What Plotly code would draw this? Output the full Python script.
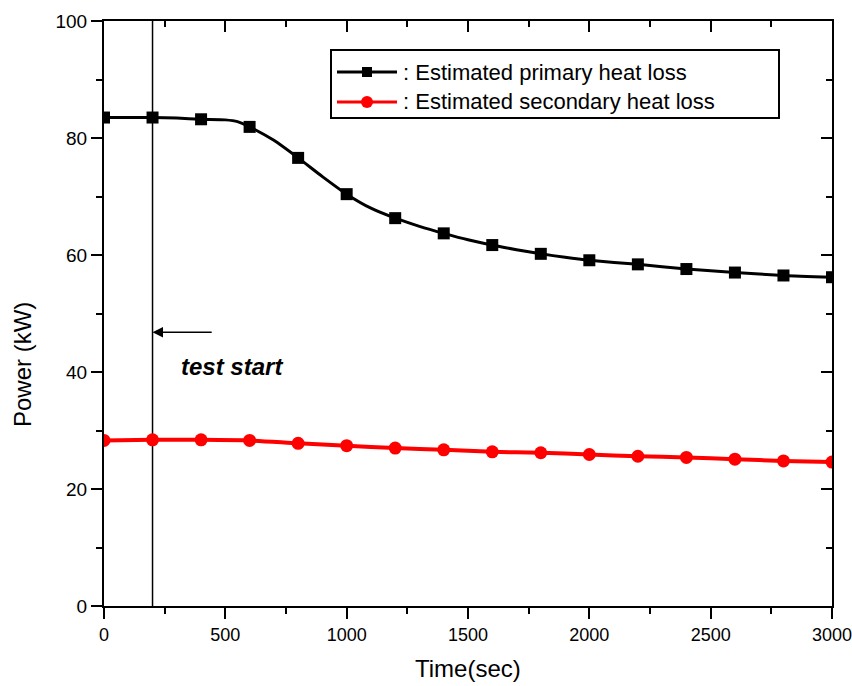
import plotly.graph_objects as go

# ---- data ----
# primary heat loss: continuous curve (read every 100 s) and markers every 200 s
prim_line_t = [0, 100, 200, 300, 400, 500, 550, 600, 700, 800, 900, 1000, 1100, 1200, 1300,
               1400, 1500, 1600, 1700, 1800, 1900, 2000, 2200, 2400, 2600, 2800, 3000]
prim_line_p = [83.5, 83.5, 83.5, 83.4, 83.2, 83.1, 82.8, 81.9, 79.6, 76.6, 73.4, 70.4, 68.0,
               66.3, 64.9, 63.7, 62.6, 61.7, 60.9, 60.2, 59.6, 59.1, 58.4, 57.6, 57.0, 56.5, 56.2]
prim_mark_t = [0, 200, 400, 600, 800, 1000, 1200, 1400, 1600, 1800, 2000, 2200, 2400, 2600, 2800, 3000]
prim_mark_p = [83.5, 83.5, 83.2, 81.9, 76.6, 70.4, 66.3, 63.7, 61.7, 60.2, 59.1, 58.4, 57.6, 57.0, 56.5, 56.2]

sec_t = [0, 200, 400, 600, 800, 1000, 1200, 1400, 1600, 1800, 2000, 2200, 2400, 2600, 2800, 3000]
sec_p = [28.3, 28.4, 28.4, 28.3, 27.8, 27.4, 27.0, 26.7, 26.35, 26.2, 25.9, 25.6, 25.4, 25.1, 24.8, 24.6]

x_ticks = [0, 500, 1000, 1500, 2000, 2500, 3000]
y_ticks = [0, 20, 40, 60, 80, 100]

test_start_t = 200
arrow_tail_t = 450
arrow_y = 46.8
label_t, label_y = 527, 40.9

names = [": Estimated primary heat loss", ": Estimated secondary heat loss"]
FONT = "Liberation Sans, Arial, sans-serif"

# plot-area geometry in pixels (for converting the hand-drawn legend)
L, R, T, B = 104, 832, 21, 606
def px(xp):
    return (xp - L) / (R - L)
def py(yp):
    return (B - yp) / (B - T)

fig = go.Figure()

# test start vertical line
fig.add_shape(type="line", x0=test_start_t, x1=test_start_t, y0=0, y1=100,
              xref="x", yref="y", line=dict(color="black", width=1.5), layer="below")

# primary
fig.add_trace(go.Scatter(x=prim_line_t, y=prim_line_p, mode="lines",
                         line=dict(color="black", width=3, shape="spline", smoothing=0.6),
                         showlegend=False, hoverinfo="skip"))
fig.add_trace(go.Scatter(x=prim_mark_t, y=prim_mark_p, mode="markers", name=names[0],
                         marker=dict(symbol="square", size=12, color="black"), showlegend=False))
# secondary
fig.add_trace(go.Scatter(x=sec_t, y=sec_p, mode="lines+markers", name=names[1],
                         line=dict(color="red", width=4, shape="spline", smoothing=0.6),
                         marker=dict(symbol="circle", size=13, color="red"), showlegend=False))

# mirror axes trace (invisible)
fig.add_trace(go.Scatter(x=[None], y=[None], xaxis="x2", yaxis="y2", showlegend=False, hoverinfo="skip"))

# arrow + label
fig.add_annotation(x=test_start_t, y=arrow_y, ax=arrow_tail_t, ay=arrow_y, axref="x", ayref="y",
                   xref="x", yref="y", text="", showarrow=True, arrowhead=2, arrowsize=1.4,
                   arrowwidth=1.5, arrowcolor="black")
fig.add_annotation(x=label_t, y=label_y, xref="x", yref="y", text="<b><i>test start</i></b>",
                   showarrow=False, font=dict(family=FONT, size=24, color="black"))

# hand-drawn legend (box, sample lines, markers, text)
fig.add_shape(type="rect", xref="paper", yref="paper", x0=px(331), x1=px(779), y0=py(118), y1=py(50),
              line=dict(color="black", width=2), fillcolor="white")
legend_rows = [(72, "black", "square", 3), (102, "red", "circle", 3)]
for (ry, col, sym, lw), name in zip(legend_rows, names):
    fig.add_shape(type="line", xref="paper", yref="paper", x0=px(337), x1=px(397), y0=py(ry), y1=py(ry),
                  line=dict(color=col, width=lw))
    if sym == "square":
        fig.add_shape(type="rect", xref="paper", yref="paper", x0=px(362), x1=px(372), y0=py(ry + 5), y1=py(ry - 5),
                      line=dict(color=col, width=0), fillcolor=col)
    else:
        fig.add_shape(type="circle", xref="paper", yref="paper", x0=px(361), x1=px(373), y0=py(ry + 6), y1=py(ry - 6),
                      line=dict(color=col, width=0), fillcolor=col)
    fig.add_annotation(x=px(401), y=py(ry), xref="paper", yref="paper", text=name, showarrow=False,
                       xanchor="left", yanchor="middle", font=dict(family=FONT, size=22, color="black"))

# axis titles
fig.add_annotation(x=px(22), y=py(365), xref="paper", yref="paper", text="Power (kW)", textangle=-90,
                   showarrow=False, xanchor="center", yanchor="middle", font=dict(family=FONT, size=24, color="black"))
fig.add_annotation(x=px(468), y=py(668), xref="paper", yref="paper", text="Time(sec)",
                   showarrow=False, xanchor="center", yanchor="middle", font=dict(family=FONT, size=24, color="black"))

axis_common = dict(showgrid=False, zeroline=False, showline=True, linecolor="black", linewidth=2,
                   tickcolor="black", tickwidth=2, ticklen=11, ticklabeloverflow="allow", automargin=False)

fig.update_layout(
    width=852, height=686,
    margin=dict(l=L, r=852 - R, t=T, b=686 - B, autoexpand=False),
    paper_bgcolor="white", plot_bgcolor="white",
    font=dict(family=FONT, color="black"),
    showlegend=False,
    xaxis=dict(range=[0, 3000], tickmode="array", tickvals=x_ticks, ticks="outside",
               tickfont=dict(family=FONT, size=18, color="black"),
               minor=dict(dtick=250, ticks="outside", ticklen=6, tickwidth=2, tickcolor="black"),
               **axis_common),
    yaxis=dict(range=[0, 100], tickmode="array", tickvals=y_ticks, ticks="outside",
               tickfont=dict(family=FONT, size=19, color="black"),
               minor=dict(dtick=10, ticks="outside", ticklen=6, tickwidth=2, tickcolor="black"),
               **axis_common),
    xaxis2=dict(range=[0, 3000], overlaying="x", side="top", anchor="y2", tickmode="array", tickvals=x_ticks,
                ticks="inside", showticklabels=False,
                minor=dict(dtick=250, ticks="inside", ticklen=6, tickwidth=2, tickcolor="black"),
                **axis_common),
    yaxis2=dict(range=[0, 100], overlaying="y", side="right", anchor="x2", tickmode="array", tickvals=y_ticks,
                ticks="inside", showticklabels=False,
                minor=dict(dtick=10, ticks="inside", ticklen=6, tickwidth=2, tickcolor="black"),
                **axis_common),
)

fig.write_html("out.html")
